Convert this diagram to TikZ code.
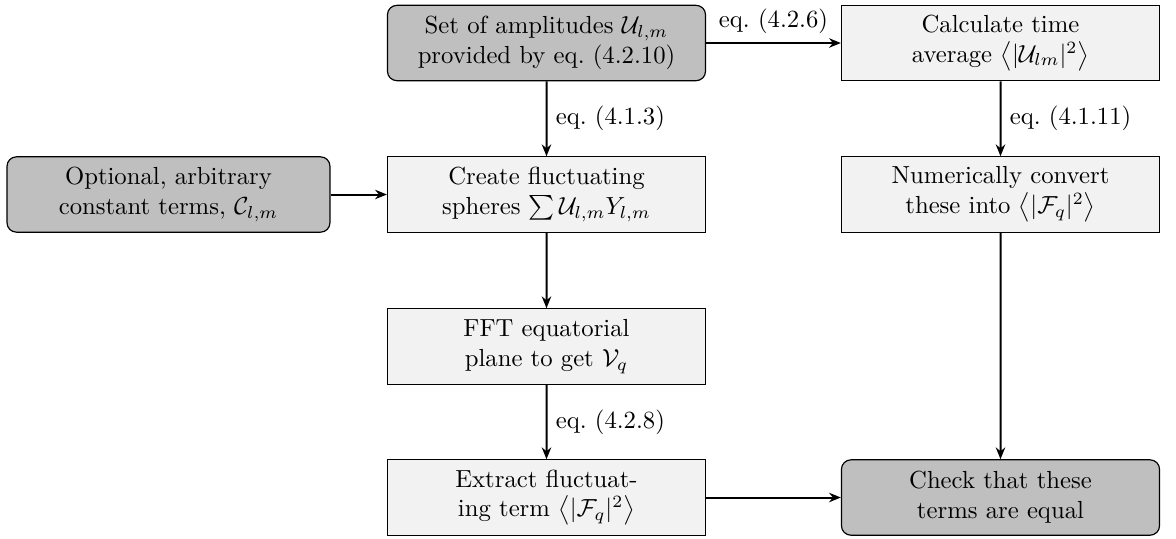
\documentclass[tikz,border=0pt]{standalone}
\usetikzlibrary{arrows.meta}
\begin{document}
\begin{tikzpicture}[x=0.425pt,y=-0.425pt,
  every node/.style={scale=1.05},
  procbox/.style={draw, fill=black!5, text width=4.29cm, align=center, minimum height=30.5pt, line width=0.5pt},
  termbox/.style={procbox, fill=black!25, rounded corners=4pt},
  conn/.style={-{Stealth[length=5pt,width=4pt]}, line width=0.85pt}]
\useasboundingbox (0,0) rectangle (1176,538);
\node[termbox] (amps) at (546.5,43) {Set of amplitudes $\mathcal{U}_{l,m}$\\ provided by eq.~(4.2.10)};
\node[procbox] (time) at (1000.5,43) {Calculate time\\ average $\left\langle|\mathcal{U}_{lm}|^2\right\rangle$};
\node[termbox, text width=4.36cm] (opt) at (168.5,194.5) {Optional, arbitrary\\ constant terms, $\mathcal{C}_{l,m}$};
\node[procbox] (create) at (546.5,194.5) {Create fluctuating\\ spheres $\sum\mathcal{U}_{l,m}Y_{l,m}$};
\node[procbox] (num) at (1000.5,194.5) {Numerically convert\\ these into $\left\langle|\mathcal{F}_q|^2\right\rangle$};
\node[procbox] (fft) at (546.5,346.5) {FFT equatorial\\ plane to get $\mathcal{V}_q$};
\node[procbox] (extract) at (546.5,497.5) {Extract fluctuat-\\ ing term $\left\langle|\mathcal{F}_q|^2\right\rangle$};
\node[termbox] (check) at (1000.5,497.5) {Check that these\\ terms are equal};
\draw[conn] (amps) -- node[midway, above] {eq.~(4.2.6)} (time);
\draw[conn] (amps) -- node[midway, right] {eq.~(4.1.3)} (create);
\draw[conn] (time) -- node[midway, right] {eq.~(4.1.11)} (num);
\draw[conn] (opt) -- (create);
\draw[conn] (create) -- (fft);
\draw[conn] (fft) -- node[midway, right] {eq.~(4.2.8)} (extract);
\draw[conn] (extract) -- (check);
\draw[conn] (num) -- (check);
\end{tikzpicture}
\end{document}
